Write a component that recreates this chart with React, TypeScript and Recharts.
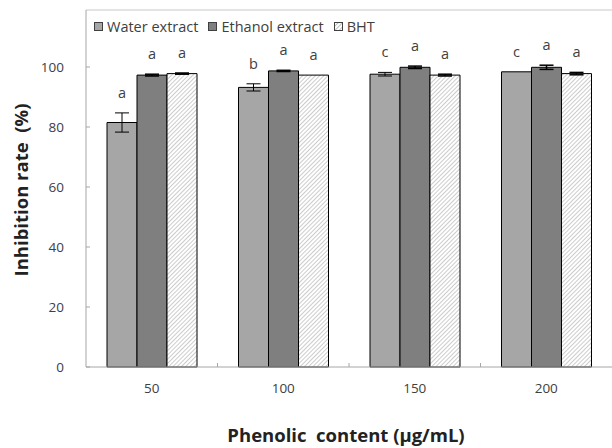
import { BarChart, Bar, XAxis, YAxis, ErrorBar, LabelList, Legend, Label, ReferenceLine } from "recharts"

const categories = ["50", "100", "150", "200"]

const waterValues = [81.5, 93.2, 97.6, 98.4]
const waterErrors = [3.2, 1.2, 0.6, 0]
const waterLetters = ["a", "b", "c", "c"]

const ethanolValues = [97.3, 98.7, 99.9, 99.9]
const ethanolErrors = [0.3, 0.2, 0.4, 0.7]
const ethanolLetters = ["a", "a", "a", "a"]

const bhtValues = [97.8, 97.3, 97.3, 97.8]
const bhtErrors = [0.2, 0, 0.3, 0.4]
const bhtLetters = ["a", "a", "a", "a"]

const yTicks = [0, 20, 40, 60, 80, 100]
const Y_MAX = 119

const FONT = "'Open Sans', sans-serif"
const TEXT = "#404040"

const data = categories.map((c, i) => ({
  name: c,
  water: waterValues[i],
  waterErr: waterErrors[i],
  ethanol: ethanolValues[i],
  ethanolErr: ethanolErrors[i],
  bht: bhtValues[i],
  bhtErr: bhtErrors[i],
}))

const CHART_W = 612
const CHART_H = 448
const PLOT_LEFT = 86
const BAND = (CHART_W - PLOT_LEFT) / categories.length

// letter above error bar
function sigLabel(values: number[], errors: number[], letters: string[]) {
  return (props: any) => {
    const { x, y, width, height, index } = props
    const k = height / values[index]
    const top = y - errors[index] * k
    return (
      <text x={x + width / 2} y={top - 15} textAnchor="middle" fontSize={14.5} fontFamily={FONT} fill={TEXT}>
        {letters[index]}
      </text>
    )
  }
}

function YTick(props: any) {
  const { x, y, payload } = props
  return (
    <g>
      <line x1={x} x2={x + 4} y1={y} y2={y} stroke="#a6a6a6" />
      <text x={x - 22} y={y + 4.5} textAnchor="end" fontSize={13.5} fontFamily={FONT} fill={TEXT}>
        {payload.value}
      </text>
    </g>
  )
}

function XTick(props: any) {
  const { x, y, payload, index } = props
  return (
    <g>
      {index > 0 && <line x1={x - BAND / 2} x2={x - BAND / 2} y1={y} y2={y - 4} stroke="#a6a6a6" />}
      <text x={x} y={y + 26} textAnchor="middle" fontSize={13.5} fontFamily={FONT} fill={TEXT}>
        {payload.value}
      </text>
    </g>
  )
}

const legendItems = [
  { label: "Water extract", fill: "#a6a6a6" },
  { label: "Ethanol extract", fill: "#7f7f7f" },
  { label: "BHT", fill: "url(#hatchLegend)" },
]

function LegendContent() {
  return (
    <div style={{ display: "flex", alignItems: "center", fontFamily: FONT, fontSize: 14.5, color: TEXT }}>
      {legendItems.map((it) => (
        <div key={it.label} style={{ display: "flex", alignItems: "center", marginRight: 10 }}>
          <svg width={9} height={9} style={{ marginRight: 4 }}>
            <defs>
              <pattern id="hatchLegend" width="3" height="3" patternUnits="userSpaceOnUse" patternTransform="rotate(45)">
                <rect width="3" height="3" fill="#fff" />
                <line x1="0" y1="0" x2="0" y2="3" stroke="#7f7f7f" strokeWidth="1" />
              </pattern>
            </defs>
            <rect x={0.5} y={0.5} width={8} height={8} fill={it.fill} stroke="#404040" />
          </svg>
          <span>{it.label}</span>
        </div>
      ))}
    </div>
  )
}

export default function App() {
  return (
    <div style={{ width: CHART_W, height: CHART_H, background: "#fff" }}>
      <style>{`body{margin:0}`}</style>
      <BarChart
        width={CHART_W}
        height={CHART_H}
        data={data}
        margin={{ top: 10, right: 0, bottom: 0, left: 10 }}
        barSize={30}
        barGap={0}
      >
        <defs>
          <pattern id="hatch" width="3" height="3" patternUnits="userSpaceOnUse" patternTransform="rotate(45)">
            <rect width="3" height="3" fill="#fff" />
            <line x1="0" y1="0" x2="0" y2="3" stroke="#9a9a9a" strokeWidth="1" />
          </pattern>
        </defs>
        <XAxis
          dataKey="name"
          height={81}
          axisLine={{ stroke: "#a6a6a6" }}
          tickLine={false}
          tickSize={0}
          tickMargin={0}
          tick={<XTick />}
          interval={0}
        >
          <Label
            content={() => (
              <text x={346} y={442} textAnchor="middle" fontSize={18.5} fontWeight="bold" fontFamily={FONT} fill="#222" style={{ whiteSpace: "pre" }}>
                Phenolic  content (μg/mL)
              </text>
            )}
          />
        </XAxis>
        <YAxis
          width={76}
          domain={[0, Y_MAX]}
          ticks={yTicks}
          axisLine={{ stroke: "#a6a6a6" }}
          tickLine={false}
          tickSize={0}
          tickMargin={0}
          tick={<YTick />}
        >
          <Label
            content={() => (
              <text transform="translate(28,190) rotate(-90)" textAnchor="middle" fontSize={18.5} fontWeight="bold" fontFamily={FONT} fill="#222" style={{ whiteSpace: "pre" }}>
                Inhibition rate  (%)
              </text>
            )}
          />
        </YAxis>
        <ReferenceLine y={Y_MAX} stroke="#c8c8c8" />
        <Legend
          layout="horizontal"
          verticalAlign="middle"
          align="center"
          wrapperStyle={{ top: 17, left: 94, width: "auto" }}
          content={<LegendContent />}
        />
        <Bar dataKey="water" name="Water extract" fill="#a6a6a6" stroke="#000" strokeWidth={1} isAnimationActive={false}>
          <ErrorBar dataKey="waterErr" width={7} stroke="#000" strokeWidth={1} direction="y" />
          <LabelList dataKey="water" content={sigLabel(waterValues, waterErrors, waterLetters)} />
        </Bar>
        <Bar dataKey="ethanol" name="Ethanol extract" fill="#7f7f7f" stroke="#000" strokeWidth={1} isAnimationActive={false}>
          <ErrorBar dataKey="ethanolErr" width={7} stroke="#000" strokeWidth={1.5} direction="y" />
          <LabelList dataKey="ethanol" content={sigLabel(ethanolValues, ethanolErrors, ethanolLetters)} />
        </Bar>
        <Bar dataKey="bht" name="BHT" fill="url(#hatch)" stroke="#000" strokeWidth={1} isAnimationActive={false}>
          <ErrorBar dataKey="bhtErr" width={7} stroke="#000" strokeWidth={1.5} direction="y" />
          <LabelList dataKey="bht" content={sigLabel(bhtValues, bhtErrors, bhtLetters)} />
        </Bar>
      </BarChart>
    </div>
  )
}
